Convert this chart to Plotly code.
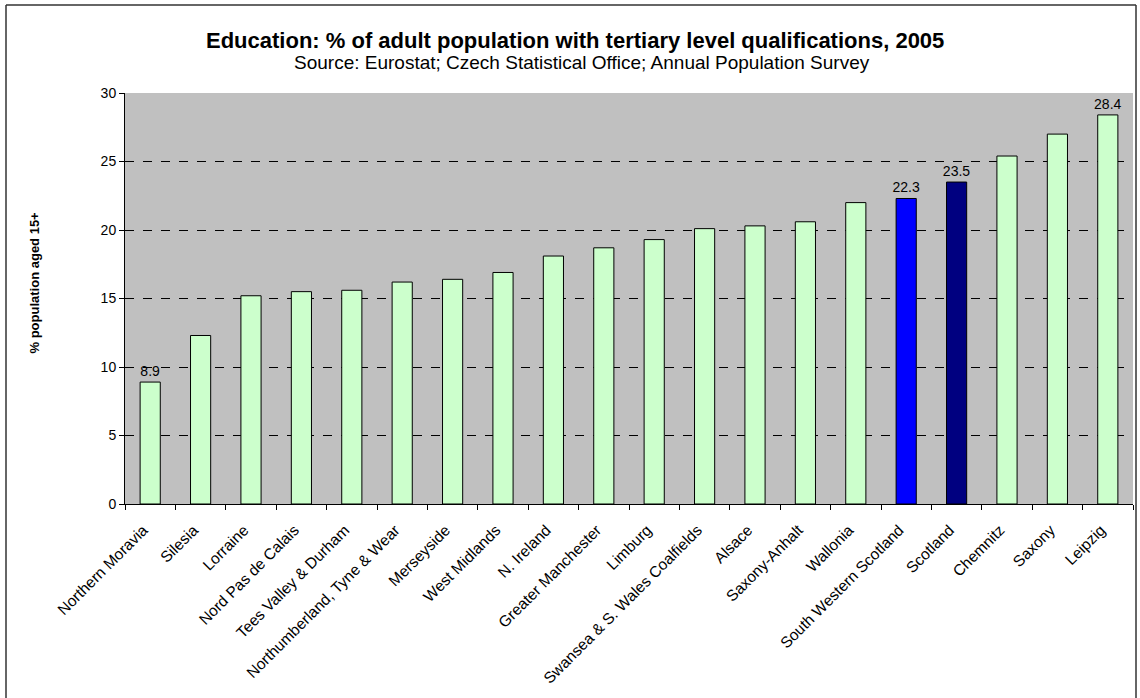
import plotly.graph_objects as go

regions = ["Northern Moravia", "Silesia", "Lorraine", "Nord Pas de Calais",
           "Tees Valley & Durham", "Northumberland, Tyne & Wear", "Merseyside",
           "West Midlands", "N. Ireland", "Greater Manchester", "Limburg",
           "Swansea & S. Wales Coalfields", "Alsace", "Saxony-Anhalt", "Wallonia",
           "South Western Scotland", "Scotland", "Chemnitz", "Saxony", "Leipzig"]
values = [8.9, 12.3, 15.2, 15.5, 15.6, 16.2, 16.4, 16.9, 18.1, 18.7,
          19.3, 20.1, 20.3, 20.6, 22.0, 22.3, 23.5, 25.4, 27.0, 28.4]
labelled = ["Northern Moravia", "South Western Scotland", "Scotland", "Leipzig"]
highlight_colors = {"South Western Scotland": "#0000FF", "Scotland": "#000080"}
base_color = "#CCFFCC"

colors = [highlight_colors.get(r, base_color) for r in regions]
texts = [f"{v:.1f}" if r in labelled else "" for r, v in zip(regions, values)]

FONT = "Arial, Liberation Sans, sans-serif"
W, H = 1140, 698
L, R, T, B = 125, 7, 93, 194
PW, PH = W - L - R, H - T - B


def px_x(p):
    return (p - L) / PW


def px_y(p):
    return (H - B - p) / PH


fig = go.Figure(go.Bar(
    x=regions, y=values,
    marker=dict(color=colors, line=dict(color="black", width=1)),
    text=texts, textposition="outside", cliponaxis=False, constraintext="none",
    textfont=dict(family=FONT, size=14, color="black"),
    hoverinfo="x+y",
))

border = dict(color="#333333", width=1.5)
fig.update_layout(
    width=W, height=H,
    margin=dict(l=L, r=R, t=T, b=B, autoexpand=False),
    paper_bgcolor="white", plot_bgcolor="#C0C0C0",
    bargap=0.6, showlegend=False,
    font=dict(family=FONT, color="black"),
    annotations=[
        dict(text="<b>Education: % of adult population with tertiary level qualifications, 2005</b>",
             xref="paper", yref="paper", x=px_x(575), y=1, yshift=53, xanchor="center", yanchor="middle",
             showarrow=False, font=dict(family=FONT, size=22, color="black")),
        dict(text="Source: Eurostat; Czech Statistical Office; Annual Population Survey",
             xref="paper", yref="paper", x=px_x(582), y=1, yshift=31, xanchor="center", yanchor="middle",
             showarrow=False, font=dict(family=FONT, size=19, color="black")),
        dict(text="<b>% population aged 15+</b>", textangle=-90,
             xref="paper", yref="paper", x=0, xshift=-91, y=0.5, yshift=16,
             xanchor="center", yanchor="middle",
             showarrow=False, font=dict(family=FONT, size=13, color="black")),
    ],
    shapes=[
        dict(type="line", xref="paper", yref="paper", x0=px_x(6), x1=px_x(6), y0=px_y(5), y1=px_y(700),
             line=border),
        dict(type="line", xref="paper", yref="paper", x0=px_x(6), x1=px_x(1136), y0=px_y(5), y1=px_y(5),
             line=border),
        dict(type="line", xref="paper", yref="paper", x0=px_x(1136), x1=px_x(1136), y0=px_y(5), y1=px_y(700),
             line=border),
    ],
)

fig.update_xaxes(
    type="category", tickson="boundaries", ticks="outside", ticklen=5, tickcolor="black",
    tickangle=-45, tickfont=dict(family=FONT, size=15.5, color="black"),
    ticklabelstandoff=10, ticklabelshift=-7,
    showline=True, linecolor="black", linewidth=1, showgrid=False,
)
fig.update_yaxes(
    range=[0, 30], dtick=5, ticks="outside", ticklen=5, tickcolor="black",
    tickfont=dict(family=FONT, size=14, color="black"),
    showline=True, linecolor="black", linewidth=1,
    showgrid=True, gridcolor="black", griddash="dash", gridwidth=1, zeroline=False,
)

fig.write_html("out.html", config={"displayModeBar": False},
               post_script="document.body.style.margin='0';")
